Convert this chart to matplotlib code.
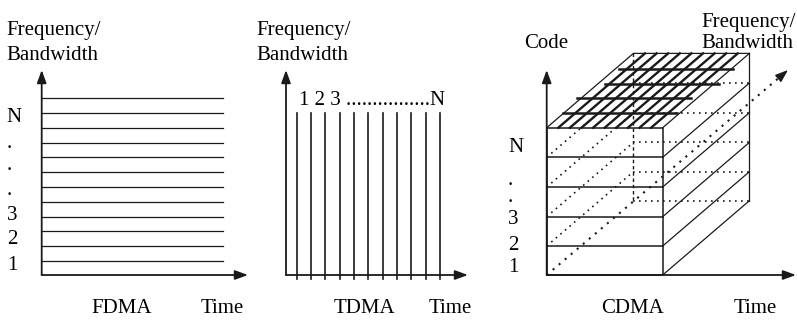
import matplotlib.pyplot as plt
import numpy as np

plt.rcParams['font.family'] = ['Liberation Serif', 'DejaVu Serif']

W, H = 797, 321
FS = 15

# ---- FDMA panel: frequency bands (y of each band line, px) ----
fdma_origin = (41.7, 275.0)
fdma_axis_tip = (70.0, 248.0)          # y tip of freq axis, x tip of time axis
fdma_levels = [98.3, 113.3, 128.0, 142.7, 157.3, 172.3, 187.0, 201.7, 216.7, 231.3, 246.0, 260.7]
fdma_line_end = 223.3
fdma_labels = ['N', '.', '.', '.', '3', '2', '1']
fdma_label_y = [121.5, 148.5, 170.0, 195.0, 220.0, 244.5, 269.5]

# ---- TDMA panel: time slots (x of each slot line, px) ----
tdma_origin = (286.0, 275.0)
tdma_axis_tip = (70.0, 468.0)
tdma_slots = [296.7, 311.0, 325.3, 339.7, 354.0, 368.3, 382.7, 397.0, 411.3, 425.7, 440.0]
tdma_slot_top, tdma_slot_bottom = 113.0, 279.0
tdma_slot_text = '1 2 3 ................N'

# ---- CDMA panel: stacked code layers in a box ----
cdma_origin = (546.7, 275.0)
cdma_axis_tip = (70.0, 796.0)
cdma_front_right = 662.7
cdma_layers = [127.7, 157.3, 187.0, 216.7, 246.0, 275.0]   # front-face layer edges
cdma_depth = (86.7, -74.3)                                  # projection of box depth
cdma_freq_tip = (788.0, 70.0)
top_diag_frac = [0.1, 0.2, 0.3, 0.4, 0.5, 0.6, 0.7, 0.8, 0.9]
top_hbar_y = [113.3, 98.3, 84.0, 69.0]
top_hbar_x0 = [562.7, 577.3, 605.0, 619.3]
top_hbar_len = 114.0
cdma_labels = ['N', '.', '.', '3', '2', '1']
cdma_label_y = [151.7, 185.0, 202.5, 224.0, 250.5, 271.5]

fig = plt.figure(figsize=(W / 100, H / 100), dpi=100)
ax = fig.add_axes([0, 0, 1, 1])
ax.set_xlim(0, W)
ax.set_ylim(H, 0)
ax.axis('off')

K = '#1a1a1a'


def arrow(x0, y0, x1, y1, lw=1.3):
    ax.annotate('', xy=(x1, y1), xytext=(x0, y0),
                arrowprops=dict(arrowstyle='-|>,head_length=0.55,head_width=0.2',
                                mutation_scale=14, lw=lw, color=K,
                                shrinkA=0, shrinkB=0))


def axes_pair(origin, tips):
    ox, oy = origin
    arrow(ox, oy, ox, tips[0])
    arrow(ox, oy, tips[1], oy)


def txt(x, y, s, ha='left'):
    ax.text(x, y, s, fontsize=FS, ha=ha, va='baseline', color='k')


# FDMA
for y in fdma_levels:
    ax.plot([fdma_origin[0], fdma_line_end], [y, y], color=K, lw=0.9)
axes_pair(fdma_origin, fdma_axis_tip)
for s, y in zip(fdma_labels, fdma_label_y):
    txt(6.7, y, s)
txt(6.7, 34.5, 'Frequency/')
txt(6.7, 59.5, 'Bandwidth')
txt(122, 313, 'FDMA', ha='center')
txt(222.5, 313, 'Time', ha='center')

# TDMA
for x in tdma_slots:
    ax.plot([x, x], [tdma_slot_top, tdma_slot_bottom], color=K, lw=1.2)
axes_pair(tdma_origin, tdma_axis_tip)
txt(299.5, 105, tdma_slot_text)
txt(256.7, 34.5, 'Frequency/')
txt(256.7, 59.5, 'Bandwidth')
txt(364, 313, 'TDMA', ha='center')
txt(450, 313, 'Time', ha='center')

# CDMA box
x0, x1 = cdma_origin[0], cdma_front_right
dx, dy = cdma_depth
top, bot = cdma_layers[0], cdma_layers[-1]
dot = (0, (1, 2.6))

# hidden edges
ax.plot([x0 + dx, x0 + dx], [top + dy, bot + dy], color=K, lw=1.0, ls=(0, (2.5, 2)))
for y in cdma_layers[1:]:
    ax.plot([x0 + dx, x1 + dx], [y + dy, y + dy], color=K, lw=1.2, ls=dot)
for y in cdma_layers[1:-1]:
    ax.plot([x0, x0 + dx], [y, y + dy], color=K, lw=1.2, ls=dot)
# frequency axis (dotted, into the page)
fx, fy = cdma_freq_tip
ax.plot([x0, fx - 6], [bot, fy + 5.2], color=K, lw=1.5, ls=(0, (1, 2.8)))
arrow(fx - 8, fy + 6.9, fx, fy, lw=1.0)

# front face
ax.plot([x0, x1, x1, x0, x0], [top, top, bot, bot, top], color=K, lw=1.1)
for y in cdma_layers[1:-1]:
    ax.plot([x0, x1], [y, y], color=K, lw=1.1)
# right face
for y in cdma_layers:
    ax.plot([x1, x1 + dx], [y, y + dy], color=K, lw=0.9)
ax.plot([x1 + dx, x1 + dx], [top + dy, bot + dy], color=K, lw=0.9)
# top face
ax.plot([x0, x0 + dx, x1 + dx], [top, top + dy, top + dy], color=K, lw=0.9)
for f in top_diag_frac:
    xs = x0 + f * (x1 - x0)
    ax.plot([xs, xs + dx], [top, top + dy], color=K, lw=1.7)
for y, xs in zip(top_hbar_y, top_hbar_x0):
    ax.plot([xs, xs + top_hbar_len], [y, y], color=K, lw=1.8)

axes_pair(cdma_origin, cdma_axis_tip)
for s, y in zip(cdma_labels, cdma_label_y):
    txt(508, y, s)
txt(524, 48.5, 'Code')
txt(701, 26.5, 'Frequency/')
txt(701, 47.5, 'Bandwidth')
txt(633, 313, 'CDMA', ha='center')
txt(755.7, 313, 'Time', ha='center')

fig.savefig('out.png', dpi=100)
